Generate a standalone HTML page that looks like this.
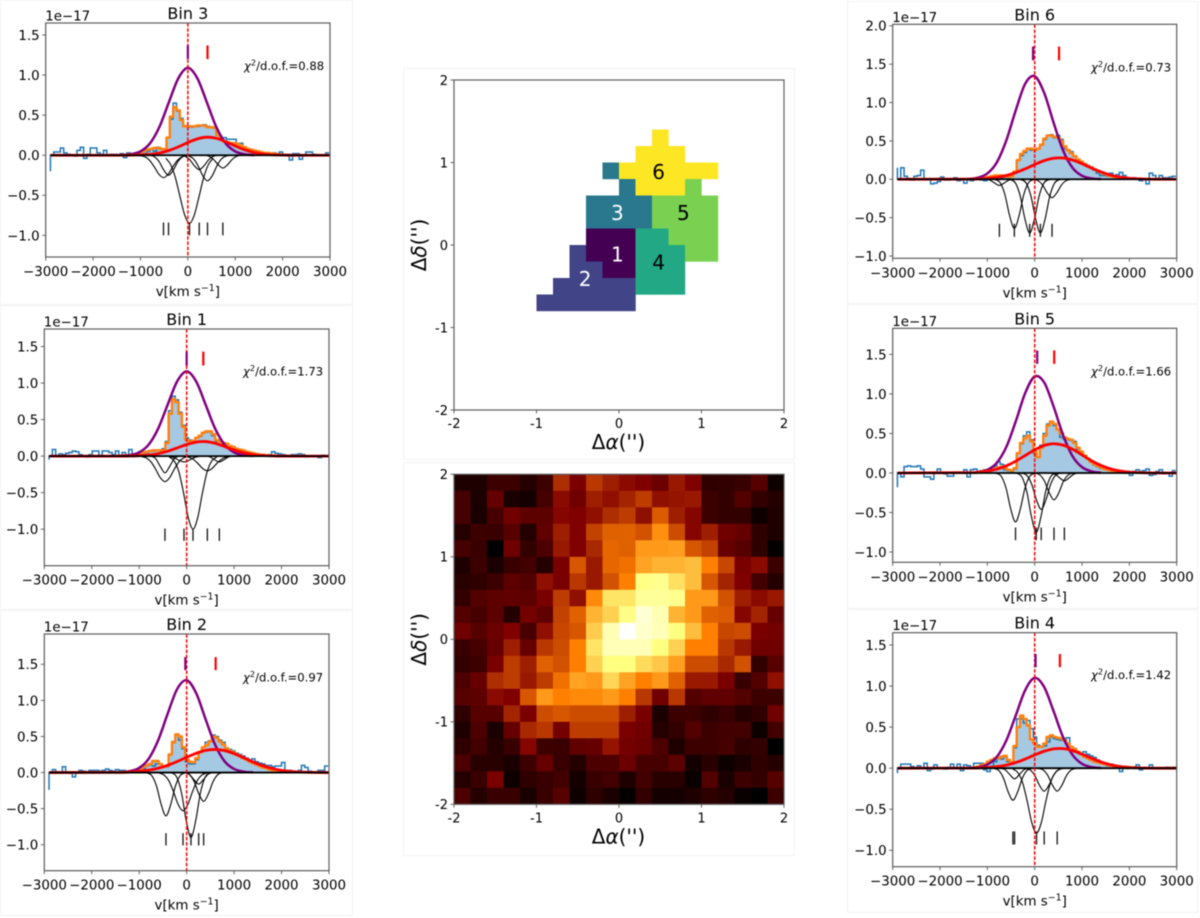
<!DOCTYPE html>
<html lang="en">
<head>
<meta charset="utf-8">
<title>Spectral bins and maps</title>
<style>
html,body{margin:0;padding:0;background:#fff;}
#figure{display:block;width:1200px;height:918px;filter:blur(0.45px);}
text{font-family:"DejaVu Sans","Liberation Sans",sans-serif;fill:#000;}
</style>
</head>
<body>
<svg id="figure" xmlns="http://www.w3.org/2000/svg" width="1200" height="918" viewBox="0 0 1200 918"></svg>
<script>
const xTickValues = [-3000,-2000,-1000,0,1000,2000,3000];
const mapTickValues = [-2,-1,0,1,2];

const bin3YTicks = [-1,-0.5,0,0.5,1,1.5];
const bin3Flux = [-.2,.04,.04,.09,.03,.01,0,-.01,.06,.1,-.04,.01,.09,.09,.03,.01,.06,0,.01,.01,0,.02,-.03,.03,.02,.01,.02,.01,.02,.05,.08,.05,.1,.08,.08,.22,.45,.65,.55,.46,.37,.36,.35,.36,.36,.37,.38,.36,.35,.35,.28,.2,.22,.2,.2,.2,.15,.15,.09,.07,.06,.05,.04,.02,.01,.02,.02,.03,.02,.04,.01,.01,-.06,.02,.02,-.05,0,.04,.04,.01,0,0,0,.03];
const bin3Fit = [0,0,0,.01,.01,.02,.03,.04,.06,.07,.08,.09,.09,.08,.07,.22,.48,.6,.56,.44,.36,.36,.36,.36,.37,.37,.37,.35,.35,.34,.25,.2,.17,.16,.15,.15,.14,.12,.1,.08,.07,.06,.05,.04,.03,.03,.02,.02,.01,.01];
const bin3Narrow = [.002,.012,.048,.147,.354,.662,.961,1.09,.961,.662,.354,.147,.048,.012,.002];
const bin3Broad = [0,.001,.004,.011,.028,.059,.104,.158,.204,.225,.211,.169,.115,.067,.033,.014,.005,.002,0,0,0];
const bin3LineCenters = [-514,-408,35,240,415,739];
const bin3LineDepths = [
 [-.004,-.018,-.059,-.14,-.235,-.28,-.235,-.14,-.059,-.018,-.004],
 [0,-.002,-.018,-.078,-.185,-.25,-.185,-.078,-.018,-.002,0],
 [-.037,-.115,-.276,-.519,-.748,-.85,-.748,-.519,-.276,-.115,-.037],
 [0,-.002,-.013,-.056,-.133,-.18,-.133,-.056,-.013,-.002,0],
 [-.001,-.009,-.043,-.131,-.256,-.32,-.256,-.131,-.043,-.009,-.001],
 [0,-.001,-.011,-.05,-.118,-.16,-.118,-.05,-.011,-.001,0]
];
const bin3Peaks = [0,415];
const bin3PeakRange = [1.2,1.37];
const bin3LineRange = [-1.0,-.84];
const bin3Chi = "0.88";

const bin1YTicks = [-1,-0.5,0,0.5,1,1.5];
const bin1Flux = [-.05,.09,.01,.03,.02,.04,.05,.07,.06,.02,0,-.01,.02,.07,.07,.01,.07,.07,.05,.02,.07,.01,.05,.02,.09,0,.02,.06,.04,.05,.07,.07,.08,.08,.1,.2,.62,.82,.77,.6,.42,.25,.22,.19,.25,.27,.32,.33,.33,.28,.2,.2,.18,.17,.12,.13,.1,.09,.08,.06,.05,.04,.03,.02,.02,.01,.02,.06,.04,.03,.02,.01,.01,.02,.02,.03,.02,-.01,0,0,0,-.02,.01,0];
const bin1Fit = [0,0,.01,.01,.01,.02,.03,.04,.05,.06,.07,.08,.08,.08,.08,.18,.58,.78,.74,.58,.4,.22,.2,.21,.25,.28,.32,.34,.34,.3,.22,.2,.18,.17,.14,.12,.1,.09,.08,.06,.05,.04,.03,.02,.02,.01,.01,.01,0,0];
const bin1Narrow = [.002,.013,.051,.157,.377,.704,1.023,1.16,1.023,.704,.377,.157,.051,.013,.002];
const bin1Broad = [0,.002,.006,.015,.034,.067,.112,.159,.192,.199,.175,.131,.084,.046,.021,.008,.003,.001,0,0,0];
const bin1LineCenters = [-457,-457,-56,134,436,689];
const bin1LineDepths = [
 [-.005,-.022,-.074,-.175,-.294,-.35,-.294,-.175,-.074,-.022,-.005],
 [0,0,-.003,-.031,-.14,-.23,-.14,-.031,-.003,0,0],
 [0,-.001,-.006,-.025,-.059,-.08,-.059,-.025,-.006,-.001,0],
 [-.013,-.063,-.21,-.5,-.84,-1,-.84,-.5,-.21,-.063,-.013],
 [-.003,-.013,-.042,-.1,-.168,-.2,-.168,-.1,-.042,-.013,-.003],
 [0,0,-.001,-.011,-.049,-.08,-.049,-.011,-.001,0,0]
];
const bin1TickLines = [-457,-56,134,436,689];
const bin1Peaks = [0,351];
const bin1PeakRange = [1.24,1.43];
const bin1LineRange = [-1.16,-.99];
const bin1Chi = "1.73";

const bin2YTicks = [-1,-0.5,0,0.5,1,1.5];
const bin2Flux = [-.24,.04,.01,0,.08,0,-.01,-.06,-.01,.03,.02,0,.03,.03,.03,.02,.03,.05,.03,.02,.04,.03,.03,.02,.02,.03,.02,.07,.05,.09,.11,.09,.12,.12,.08,.08,.25,.43,.52,.45,.33,.15,.12,.12,.18,.28,.35,.42,.44,.52,.5,.45,.42,.34,.32,.3,.27,.25,.23,.2,.17,.19,.15,.13,.12,.1,.1,.08,.09,.09,.14,.02,.03,.02,.01,.03,.1,.07,.02,0,0,.03,.03,.09];
const bin2Fit = [0,0,0,.01,.02,.03,.04,.05,.08,.1,.12,.16,.16,.12,.08,.09,.25,.42,.53,.5,.35,.18,.15,.14,.2,.28,.35,.38,.43,.5,.48,.43,.39,.33,.3,.28,.25,.23,.2,.18,.15,.13,.11,.09,.07,.06,.04,.03,.02,.01];
const bin2Narrow = [.004,.017,.064,.191,.448,.815,1.157,1.279,1.101,.737,.385,.156,.05,.012,.003];
const bin2Broad = [.003,.007,.016,.033,.06,.1,.153,.212,.267,.307,.32,.304,.262,.206,.147,.096,.057,.03,.015,.007,.003];
const bin2LineCenters = [-436,-77,91,253,358];
const bin2LineDepths = [
 [-.001,-.005,-.042,-.186,-.444,-.6,-.444,-.186,-.042,-.005,-.001],
 [-.007,-.033,-.111,-.265,-.445,-.53,-.445,-.265,-.111,-.033,-.007],
 [0,-.008,-.063,-.279,-.666,-.9,-.666,-.279,-.063,-.008,0],
 [0,0,-.002,-.022,-.098,-.16,-.098,-.022,-.002,0,0],
 [0,-.004,-.028,-.124,-.296,-.4,-.296,-.124,-.028,-.004,0]
];
const bin2Peaks = [-28,611];
const bin2PeakRange = [1.42,1.6];
const bin2LineRange = [-1.01,-.84];
const bin2Chi = "0.97";

const bin6YTicks = [-1,-0.5,0,0.5,1,1.5,2];
const bin6Flux = [.15,.15,.04,.01,-.01,.04,.05,.12,0,0,-.06,-.05,-.03,.03,-.01,-.01,0,.02,-.02,-.01,-.05,-.01,-.02,0,0,-.01,-.02,.02,.03,.05,.03,.02,.03,.02,.05,.08,.25,.31,.35,.4,.38,.38,.4,.45,.52,.57,.58,.54,.57,.52,.4,.38,.36,.3,.26,.22,.2,.18,.16,.12,.08,.05,.05,.04,.08,.05,.06,.09,.05,.02,0,.02,.01,-.02,0,-.06,.08,.05,0,.05,.02,.02,.03,.04];
const bin6Fit = [0,0,0,0,.01,.01,.02,.03,.04,.05,.05,.05,.04,.03,.04,.1,.25,.33,.37,.4,.4,.38,.4,.45,.53,.57,.57,.55,.54,.5,.43,.38,.34,.3,.26,.23,.2,.17,.15,.13,.11,.09,.07,.05,.04,.03,.02,.02,.01,.01];
const bin6Narrow = [.004,.02,.076,.221,.506,.9,1.246,1.343,1.127,.737,.375,.149,.046,.011,.003];
const bin6Broad = [.002,.004,.011,.025,.049,.087,.136,.192,.243,.274,.277,.251,.203,.147,.095,.055,.029,.013,.006,.002,.001];
const bin6LineCenters = [-746,-430,-106,120,366];
const bin6LineDepths = [
 [0,0,-.001,-.011,-.049,-.08,-.049,-.011,-.001,0,0],
 [0,-.006,-.045,-.198,-.474,-.64,-.474,-.198,-.045,-.006,0],
 [0,-.006,-.049,-.217,-.518,-.7,-.518,-.217,-.049,-.006,0],
 [0,-.006,-.049,-.217,-.518,-.7,-.518,-.217,-.049,-.006,0],
 [0,-.002,-.017,-.074,-.178,-.24,-.178,-.074,-.017,-.002,0]
];
const bin6Peaks = [-35,514];
const bin6PeakRange = [1.55,1.73];
const bin6LineRange = [-.75,-.58];
const bin6Chi = "0.73";

const bin5YTicks = [-1,-0.5,0,0.5,1,1.5];
const bin5Flux = [-.18,-.05,.08,.09,.08,.08,.09,.05,-.05,-.05,-.08,.01,.05,0,-.01,-.04,-.04,.01,.01,0,.04,-.05,.04,.05,.02,.03,.04,.03,.05,.08,.14,.11,.04,.03,.02,.05,.25,.37,.47,.52,.42,.25,.2,.35,.5,.62,.65,.6,.55,.45,.43,.42,.41,.4,.3,.26,.22,.18,.14,.1,.08,.06,.05,.05,.03,.03,.02,.03,0,.02,-.03,.02,.04,.02,.03,.05,-.03,-.02,.02,.04,-.01,0,-.04,.03];
const bin5Fit = [0,0,0,0,.01,.02,.03,.04,.05,.05,.07,.08,.06,.04,.03,.06,.25,.38,.44,.47,.4,.27,.2,.32,.47,.6,.65,.62,.55,.5,.45,.43,.42,.38,.32,.27,.22,.18,.14,.11,.09,.07,.05,.04,.03,.02,.02,.01,.01,0];
const bin5Narrow = [.001,.01,.039,.129,.328,.653,1.012,1.22,1.146,.839,.478,.212,.074,.02,.004];
const bin5Broad = [.004,.01,.023,.048,.09,.149,.221,.293,.348,.37,.352,.3,.228,.155,.095,.052,.025,.011,.004,.001,0];
const bin5LineCenters = [-405,32,137,408,627];
const bin5LineDepths = [
 [0,-.006,-.043,-.192,-.459,-.62,-.459,-.192,-.043,-.006,0],
 [0,-.007,-.052,-.233,-.555,-.75,-.555,-.233,-.052,-.007,0],
 [0,-.004,-.032,-.143,-.34,-.46,-.34,-.143,-.032,-.004,0],
 [0,-.003,-.024,-.105,-.252,-.34,-.252,-.105,-.024,-.003,0],
 [0,0,-.001,-.014,-.061,-.1,-.061,-.014,-.001,0,0]
];
const bin5Peaks = [53,412];
const bin5PeakRange = [1.38,1.55];
const bin5LineRange = [-.85,-.69];
const bin5Chi = "1.66";

const bin4YTicks = [-1,-0.5,0,0.5,1,1.5];
const bin4Flux = [-.06,.05,.05,.05,.02,0,.03,0,.06,-.03,-.01,.04,0,0,-.01,.01,.05,0,.05,-.03,.04,.03,.01,.06,.06,.06,-.02,-.04,.02,.08,.12,.11,.14,.08,.05,.25,.6,.6,.55,.58,.48,.38,.28,.26,.27,.32,.38,.36,.35,.34,.36,.37,.26,.24,.2,.18,.2,.17,.15,.13,.1,.07,.05,.03,.05,.03,.02,-.04,.02,0,0,0,.04,-.02,0,0,.04,0,0,0,0,.01,0,.01];
const bin4Fit = [0,0,0,.01,.02,.04,.05,.08,.1,.12,.12,.14,.15,.1,.07,.27,.5,.64,.6,.52,.35,.3,.26,.26,.3,.38,.4,.38,.37,.36,.34,.3,.26,.23,.2,.17,.14,.12,.1,.08,.07,.06,.05,.04,.03,.02,.02,.01,.01,0];
const bin4Narrow = [.002,.011,.044,.138,.337,.642,.952,1.099,.988,.692,.377,.161,.053,.013,.002];
const bin4Broad = [.001,.003,.008,.018,.037,.068,.111,.161,.206,.235,.238,.214,.17,.121,.076,.042,.021,.009,.004,.001,0];
const bin4LineCenters = [-460,-425,39,200,475];
const bin4LineDepths = [
 [0,-.004,-.027,-.121,-.289,-.39,-.289,-.121,-.027,-.004,0],
 [0,0,-.002,-.018,-.079,-.13,-.079,-.018,-.002,0,0],
 [-.01,-.05,-.166,-.395,-.664,-.79,-.664,-.395,-.166,-.05,-.01],
 [0,-.003,-.02,-.087,-.207,-.28,-.207,-.087,-.02,-.003,0],
 [0,-.003,-.02,-.087,-.207,-.28,-.207,-.087,-.02,-.003,0]
];
const bin4Peaks = [18,532];
const bin4PeakRange = [1.23,1.39];
const bin4LineRange = [-.93,-.77];
const bin4Chi = "1.42";

const binMapRows = [
 [0,0,0,0,0,0,0,0,0,0,0,0,0,0,0,0,0,0,0,0],
 [0,0,0,0,0,0,0,0,0,0,0,0,0,0,0,0,0,0,0,0],
 [0,0,0,0,0,0,0,0,0,0,0,0,0,0,0,0,0,0,0,0],
 [0,0,0,0,0,0,0,0,0,0,0,0,6,0,0,0,0,0,0,0],
 [0,0,0,0,0,0,0,0,0,0,0,6,6,6,0,0,0,0,0,0],
 [0,0,0,0,0,0,0,0,0,3,6,6,6,6,6,6,0,0,0,0],
 [0,0,0,0,0,0,0,0,0,0,3,6,6,6,5,0,0,0,0,0],
 [0,0,0,0,0,0,0,0,3,3,3,3,5,5,5,5,0,0,0,0],
 [0,0,0,0,0,0,0,0,3,3,3,3,5,5,5,5,0,0,0,0],
 [0,0,0,0,0,0,0,0,1,1,1,4,4,5,5,5,0,0,0,0],
 [0,0,0,0,0,0,0,2,1,1,1,4,4,4,5,5,0,0,0,0],
 [0,0,0,0,0,0,0,2,2,1,1,4,4,4,0,0,0,0,0,0],
 [0,0,0,0,0,0,2,2,2,2,2,4,4,4,0,0,0,0,0,0],
 [0,0,0,0,0,2,2,2,2,2,2,0,0,0,0,0,0,0,0,0],
 [0,0,0,0,0,0,0,0,0,0,0,0,0,0,0,0,0,0,0,0],
 [0,0,0,0,0,0,0,0,0,0,0,0,0,0,0,0,0,0,0,0],
 [0,0,0,0,0,0,0,0,0,0,0,0,0,0,0,0,0,0,0,0],
 [0,0,0,0,0,0,0,0,0,0,0,0,0,0,0,0,0,0,0,0],
 [0,0,0,0,0,0,0,0,0,0,0,0,0,0,0,0,0,0,0,0],
 [0,0,0,0,0,0,0,0,0,0,0,0,0,0,0,0,0,0,0,0]
];
const binColors = ["none","#440154","#414487","#2a788e","#22a884","#7ad151","#fde725"];
const binLabelIds = [1,2,3,4,5,6];
const binLabelAlpha = [-0.02,-0.41,-0.02,0.48,0.78,0.48];
const binLabelDelta = [-0.11,-0.41,0.39,-0.21,0.39,0.89];

const fluxRows = [
 [6,6,12,12,7,12,34,24,36,31,27,25,21,30,25,9,10,11,17,3],
 [14,5,20,5,4,14,27,22,31,28,32,37,28,29,30,12,10,16,10,7],
 [14,5,14,22,18,18,26,25,28,34,37,28,43,31,26,12,10,10,3,6],
 [7,12,11,17,7,19,31,25,38,44,44,41,53,40,26,31,22,20,9,6],
 [14,11,0,22,10,15,30,25,33,45,44,55,55,56,42,38,20,17,9,1],
 [6,12,5,11,13,7,24,42,30,45,47,57,60,60,62,50,39,24,27,12],
 [8,9,12,18,16,28,24,36,30,41,50,76,78,69,62,42,32,25,13,7],
 [10,16,18,19,18,24,37,28,52,70,70,80,80,78,55,55,41,31,27,30],
 [16,14,18,7,23,19,38,44,60,66,76,92,85,60,55,44,43,26,32,20],
 [22,17,21,25,14,28,39,42,65,85,100,90,86,75,62,50,39,40,24,23],
 [11,14,20,31,20,36,40,50,70,86,86,86,75,66,50,50,36,30,22,22],
 [10,12,24,37,31,44,41,50,66,75,75,68,64,56,40,40,33,41,10,17],
 [15,20,34,37,30,37,47,57,55,67,57,50,55,44,30,30,24,11,16,28],
 [17,18,27,25,42,55,50,52,52,55,50,36,22,36,16,19,19,16,12,12],
 [9,17,17,32,24,40,42,40,40,40,31,24,5,12,12,9,11,7,9,22],
 [6,15,5,20,33,36,23,37,37,37,24,22,7,10,16,12,13,13,3,13],
 [9,13,7,11,26,12,11,19,20,29,23,21,15,6,12,12,14,9,10,0],
 [15,8,8,5,12,20,11,7,15,15,21,14,14,18,4,8,3,5,9,7],
 [7,11,24,3,9,11,13,4,11,13,6,13,8,8,2,16,5,12,10,17],
 [15,7,11,11,5,11,17,3,9,5,1,10,4,4,6,9,7,2,0,12]
];

const NS = "http://www.w3.org/2000/svg";
const root = document.getElementById("figure");
const FLUX_START = -2900, FLUX_STEP = 70;
const FIT_START = -1500;
const NARROW_START = -1400, CURVE_STEP = 200;
const LINE_STEP = 100;

function make(parent, tag, attrs, content) {
  const el = document.createElementNS(NS, tag);
  for (const k in attrs) el.setAttribute(k, attrs[k]);
  if (content !== undefined) el.innerHTML = content;
  parent.appendChild(el);
  return el;
}
function smoothPath(p) {
  let d = "M" + p[0][0].toFixed(2) + " " + p[0][1].toFixed(2);
  for (let i = 0; i < p.length - 1; i++) {
    const a = p[Math.max(i - 1, 0)], b = p[i], c = p[i + 1], e = p[Math.min(i + 2, p.length - 1)];
    const c1x = b[0] + (c[0] - a[0]) / 6, c1y = b[1] + (c[1] - a[1]) / 6;
    const c2x = c[0] - (e[0] - b[0]) / 6, c2y = c[1] - (e[1] - b[1]) / 6;
    d += "C" + c1x.toFixed(2) + " " + c1y.toFixed(2) + " " + c2x.toFixed(2) + " " + c2y.toFixed(2) + " " + c[0].toFixed(2) + " " + c[1].toFixed(2);
  }
  return d;
}
function fmtY(v) { return v.toFixed(1).replace("-", "\u2212"); }
function fmtX(v) { return String(v).replace("-", "\u2212"); }

const cards = [
  [0,0,352,304],[0,305,352,304],[0,610,352,305],
  [847,1,350,302],[847,304,350,304],[847,609,350,303],
  [403,68,391,391],[403,462,391,393]
];
cards.forEach(function (c) {
  const card = make(root, "rect", {x:c[0]+.5,y:c[1]+.5,width:c[2],height:c[3],fill:"#fff",stroke:"#f3f3f3","stroke-width":1});
  
  
});

const panels = [
  {name:"bin-3",title:"Bin 3",left:45.7,right:330,top:23,bottom:257,yMin:-1.27,yMax:1.65,chiX:244,chiY:70,yTicks:bin3YTicks,flux:bin3Flux,fit:bin3Fit,narrow:bin3Narrow,broad:bin3Broad,centers:bin3LineCenters,depths:bin3LineDepths,ticks:bin3LineCenters,peaks:bin3Peaks,peakRange:bin3PeakRange,lineRange:bin3LineRange,chi:bin3Chi},
  {name:"bin-1",title:"Bin 1",left:44.3,right:329,top:329,bottom:565.7,yMin:-1.5,yMax:1.74,chiX:243,chiY:375.7,yTicks:bin1YTicks,flux:bin1Flux,fit:bin1Fit,narrow:bin1Narrow,broad:bin1Broad,centers:bin1LineCenters,depths:bin1LineDepths,ticks:bin1TickLines,peaks:bin1Peaks,peakRange:bin1PeakRange,lineRange:bin1LineRange,chi:bin1Chi},
  {name:"bin-2",title:"Bin 2",left:44.3,right:329,top:634,bottom:870.7,yMin:-1.36,yMax:1.92,chiX:243,chiY:681.7,yTicks:bin2YTicks,flux:bin2Flux,fit:bin2Fit,narrow:bin2Narrow,broad:bin2Broad,centers:bin2LineCenters,depths:bin2LineDepths,ticks:bin2LineCenters,peaks:bin2Peaks,peakRange:bin2PeakRange,lineRange:bin2LineRange,chi:bin2Chi},
  {name:"bin-6",title:"Bin 6",left:892.7,right:1176.7,top:24.3,bottom:258.3,yMin:-1.03,yMax:2.02,chiX:1091,chiY:71.7,yTicks:bin6YTicks,flux:bin6Flux,fit:bin6Fit,narrow:bin6Narrow,broad:bin6Broad,centers:bin6LineCenters,depths:bin6LineDepths,ticks:bin6LineCenters,peaks:bin6Peaks,peakRange:bin6PeakRange,lineRange:bin6LineRange,chi:bin6Chi},
  {name:"bin-5",title:"Bin 5",left:892.7,right:1176.7,top:328.3,bottom:562.3,yMin:-1.13,yMax:1.83,chiX:1091,chiY:375.7,yTicks:bin5YTicks,flux:bin5Flux,fit:bin5Fit,narrow:bin5Narrow,broad:bin5Broad,centers:bin5LineCenters,depths:bin5LineDepths,ticks:bin5LineCenters,peaks:bin5Peaks,peakRange:bin5PeakRange,lineRange:bin5LineRange,chi:bin5Chi},
  {name:"bin-4",title:"Bin 4",left:892.7,right:1176.7,top:632.7,bottom:866.7,yMin:-1.2,yMax:1.65,chiX:1091,chiY:679,yTicks:bin4YTicks,flux:bin4Flux,fit:bin4Fit,narrow:bin4Narrow,broad:bin4Broad,centers:bin4LineCenters,depths:bin4LineDepths,ticks:bin4LineCenters,peaks:bin4Peaks,peakRange:bin4PeakRange,lineRange:bin4LineRange,chi:bin4Chi}
];

function drawSpectrum(p) {
  const g = make(root, "g", {});
  
  
  const X = function (v) { return p.left + (v + 3000) / 6000 * (p.right - p.left); };
  const Y = function (f) { return p.top + (p.yMax - f) / (p.yMax - p.yMin) * (p.bottom - p.top); };

  let fitLine = "";
  p.fit.forEach(function (f, i) {
    const a = X(FIT_START + i * FLUX_STEP).toFixed(2), b = X(FIT_START + (i + 1) * FLUX_STEP).toFixed(2), y = Y(f).toFixed(2);
    fitLine += (i === 0 ? "M" : "L") + a + " " + y + "L" + b + " " + y;
  });
  const lastFitX = X(FIT_START + p.fit.length * FLUX_STEP).toFixed(2), firstFitX = X(FIT_START).toFixed(2), zeroY = Y(0).toFixed(2);

  const fill = make(g, "path", {d:fitLine + "L" + lastFitX + " " + zeroY + "L" + firstFitX + " " + zeroY + "Z",fill:"#a5c9e2",stroke:"none"});
  
  

  let fluxLine = "M" + X(FLUX_START).toFixed(2) + " " + Y(p.flux[0]).toFixed(2) + "L" + X(FLUX_START).toFixed(2) + " " + zeroY + "L" + X(FLUX_START + FLUX_STEP).toFixed(2) + " " + zeroY;
  for (let i = 1; i < p.flux.length; i++) {
    const y = Y(p.flux[i]).toFixed(2);
    fluxLine += "L" + X(FLUX_START + i * FLUX_STEP).toFixed(2) + " " + y + "L" + X(FLUX_START + (i + 1) * FLUX_STEP).toFixed(2) + " " + y;
  }
  const flux = make(g, "path", {d:fluxLine,fill:"none",stroke:"#1f77b4","stroke-width":1.5});
  
  

  const fit = make(g, "path", {d:fitLine,fill:"none",stroke:"#ff7f0e","stroke-width":2.4,"stroke-linejoin":"round"});
  
  

  const narrowPts = p.narrow.map(function (f, i) { return [X(NARROW_START + i * CURVE_STEP), Y(f)]; });
  const narrow = make(g, "path", {d:smoothPath(narrowPts),fill:"none",stroke:"#800080","stroke-width":2.5});
  
  

  const broadPts = p.broad.map(function (f, i) { return [X(NARROW_START + i * CURVE_STEP), Y(f)]; });
  broadPts.unshift([X(-2900), Y(0)]);
  broadPts.push([X(3000), Y(0)]);
  const broad = make(g, "path", {d:smoothPath(broadPts),fill:"none",stroke:"#ff0000","stroke-width":2.8});
  
  

  p.centers.forEach(function (c, j) {
    const pts = p.depths[j].map(function (f, k) { return [X(c + (k - 5) * LINE_STEP), Y(f)]; });
    const curve = make(g, "path", {d:smoothPath(pts),fill:"none",stroke:"#000","stroke-width":1.1});
    
    
  });

  const base = make(g, "line", {x1:X(-2900),x2:X(3000),y1:Y(0),y2:Y(0),stroke:"#000","stroke-width":1.8});
  
  

  const zero = make(g, "line", {x1:X(0),x2:X(0),y1:p.top,y2:p.bottom,stroke:"#ff0000","stroke-width":1.5,"stroke-dasharray":"3.6 1.6"});
  
  

  p.ticks.forEach(function (c) {
    const t = make(g, "line", {x1:X(c),x2:X(c),y1:Y(p.lineRange[0]),y2:Y(p.lineRange[1]),stroke:"#111","stroke-width":1.3});
    
    
  });
  const purpleTick = make(g, "line", {x1:X(p.peaks[0]),x2:X(p.peaks[0]),y1:Y(p.peakRange[0]),y2:Y(p.peakRange[1]),stroke:"#800080","stroke-width":2.2});
  
  
  const redTick = make(g, "line", {x1:X(p.peaks[1]),x2:X(p.peaks[1]),y1:Y(p.peakRange[0]),y2:Y(p.peakRange[1]),stroke:"#ff0000","stroke-width":2.2});
  
  

  const frame = make(g, "rect", {x:p.left,y:p.top,width:p.right-p.left,height:p.bottom-p.top,fill:"none",stroke:"#5c5c5c","stroke-width":1.2});
  
  

  xTickValues.forEach(function (v) {
    const t = make(g, "line", {x1:X(v),x2:X(v),y1:p.bottom,y2:p.bottom+3.5,stroke:"#555","stroke-width":.9});
    
    
    const l = make(g, "text", {x:X(v),y:p.bottom+19,"text-anchor":"middle","font-size":13.4}, fmtX(v));
    
    
  });
  p.yTicks.forEach(function (v) {
    const t = make(g, "line", {x1:p.left-3.5,x2:p.left,y1:Y(v),y2:Y(v),stroke:"#555","stroke-width":.9});
    
    
    const l = make(g, "text", {x:p.left-6,y:Y(v)+4.9,"text-anchor":"end","font-size":13.4}, fmtY(v));
    
    
  });

  const title = make(g, "text", {x:(p.left+p.right)/2,y:p.top-4,"text-anchor":"middle","font-size":16}, p.title);
  
  
  const scale = make(g, "text", {x:p.left-.5,y:p.top-2.5,"font-size":13.4}, "1e\u221217");
  
  
  const xLabel = make(g, "text", {x:(p.left+p.right)/2,y:p.bottom+39,"text-anchor":"middle","font-size":13.4}, 'v[km s<tspan font-size="9.4" dy="-5">\u22121</tspan><tspan dy="5">]</tspan>');
  
  
  const chi = make(g, "text", {x:p.chiX,y:p.chiY,"font-size":11.6}, '<tspan font-style="italic">\u03c7</tspan><tspan font-size="8.2" dy="-4.5">2</tspan><tspan dy="4.5">/d.o.f.=' + p.chi + '</tspan>');
  
  
}
panels.forEach(drawSpectrum);

function mapAxes(g, left, top, size) {
  const X = function (a) { return left + (a + 2) / 4 * size; };
  const Y = function (d) { return top + (2 - d) / 4 * size; };
  const frame = make(g, "rect", {x:left,y:top,width:size,height:size,fill:"none",stroke:"#5c5c5c","stroke-width":1.2});
  
  
  mapTickValues.forEach(function (v) {
    const xt = make(g, "line", {x1:X(v),x2:X(v),y1:top+size,y2:top+size+3.5,stroke:"#555","stroke-width":.9});
    
    
    const xl = make(g, "text", {x:X(v),y:top+size+18,"text-anchor":"middle","font-size":13}, String(v));
    
    
    const yt = make(g, "line", {x1:left-3.5,x2:left,y1:Y(v),y2:Y(v),stroke:"#555","stroke-width":.9});
    
    
    const yl = make(g, "text", {x:left-6,y:Y(v)+4.8,"text-anchor":"end","font-size":13}, String(v));
    
    
  });
  const xa = make(g, "text", {x:left+size/2-.5,y:top+size+39,"text-anchor":"middle","font-size":20}, '\u0394<tspan font-style="italic">\u03b1</tspan>(\'\')');
  
  
  const ya = make(g, "text", {transform:"translate(426 " + (top+size/2) + ") rotate(-90)","text-anchor":"middle","font-size":20}, '\u0394<tspan font-style="italic">\u03b4</tspan>(\'\')');
  
  
  return {X:X, Y:Y};
}

const MAP_LEFT = 454, MAP_SIZE = 330, CELL = 0.2;

const binMapGroup = make(root, "g", {});


const binX = function (a) { return MAP_LEFT + (a + 2) / 4 * MAP_SIZE; };
const binY = function (d) { return 80 + (2 - d) / 4 * MAP_SIZE; };
binMapRows.forEach(function (row, r) {
  row.forEach(function (id, c) {
    if (!id) return;
    const cell = make(binMapGroup, "rect", {x:binX(-2+c*CELL),y:binY(2-r*CELL),width:MAP_SIZE/20+.2,height:MAP_SIZE/20+.2,fill:binColors[id]});
    
    
  });
});
binLabelIds.forEach(function (id, i) {
  const l = make(binMapGroup, "text", {x:binX(binLabelAlpha[i]),y:binY(binLabelDelta[i])+7.4,"text-anchor":"middle","font-size":20,style:"fill:" + (id <= 3 ? "#fff" : "#000")}, String(id));
  
  
});
mapAxes(binMapGroup, MAP_LEFT, 80, MAP_SIZE);

const fluxGroup = make(root, "g", {});


function afmhot(pct) {
  const v = pct / 100;
  const clip = function (u) { return Math.round(Math.max(0, Math.min(1, u)) * 255); };
  return "rgb(" + clip(2 * v) + "," + clip(2 * v - .5) + "," + clip(2 * v - 1) + ")";
}
const heatX = function (a) { return MAP_LEFT + (a + 2) / 4 * MAP_SIZE; };
const heatY = function (d) { return 474.3 + (2 - d) / 4 * MAP_SIZE; };
fluxRows.forEach(function (row, r) {
  row.forEach(function (val, c) {
    const cell = make(fluxGroup, "rect", {x:heatX(-2+c*CELL),y:heatY(2-r*CELL),width:MAP_SIZE/20+.2,height:MAP_SIZE/20+.2,fill:afmhot(val)});
    
    
  });
});
mapAxes(fluxGroup, MAP_LEFT, 474.3, MAP_SIZE);
</script>
</body>
</html>
